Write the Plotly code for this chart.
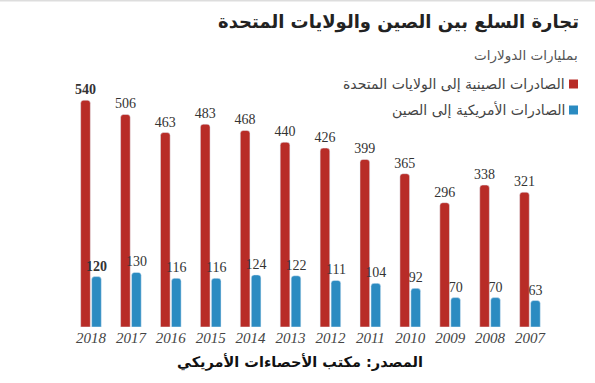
import plotly.graph_objects as go

years = ["2018", "2017", "2016", "2015", "2014", "2013", "2012", "2011", "2010", "2009", "2008", "2007"]
china_exports = [540, 506, 463, 483, 468, 440, 426, 399, 365, 296, 338, 321]
us_exports = [120, 130, 116, 116, 124, 122, 111, 104, 92, 70, 70, 63]

title_text = "تجارة السلع بين الصين والولايات المتحدة"
subtitle_text = "بمليارات الدولارات"
series_names = ["الصادرات الصينية إلى الولايات المتحدة", "الصادرات الأمريكية إلى الصين"]
source_text = "المصدر: مكتب الأحصاءات الأمريكي"

RED = "#b82c27"
BLUE = "#2b8bc1"
AR_FONT = "DejaVu Sans"
W, H = 595, 383
T, B = 75, 56


def labels(vals):
    return [f"<b>{v}</b>" if i == 0 else str(v) for i, v in enumerate(vals)]


fig = go.Figure()
for vals, name, col in [(china_exports, series_names[0], RED), (us_exports, series_names[1], BLUE)]:
    fig.add_trace(go.Bar(
        x=years, y=vals, name=name, marker_color=col,
        text=labels(vals), textposition="outside", cliponaxis=False, constraintext="none",
        textfont=dict(family="Liberation Serif", size=14, color="#333333"),
        hoverinfo="skip",
    ))

fig.update_layout(
    width=W, height=H,
    margin=dict(l=0, r=0, t=T, b=B),
    paper_bgcolor="white", plot_bgcolor="white",
    barmode="group", bargap=0.45, bargroupgap=0.12, barcornerradius=3,
    showlegend=False,
    xaxis=dict(type="category", range=[-2.28, 12.63], showgrid=False, zeroline=False,
               showline=False, ticks="", ticklen=0, fixedrange=True,
               tickfont=dict(family="Liberation Serif", size=15, color="#444444", style="italic")),
    yaxis=dict(range=[0, 600], visible=False, fixedrange=True),
)


def px_x(x):
    return x / W


def px_y(y):
    return (H - B - y) / (H - T - B)


fig.add_shape(type="line", xref="paper", yref="paper", x0=0, x1=1, y0=px_y(0.5), y1=px_y(0.5),
              line=dict(color="#dddddd", width=2))
fig.add_annotation(x=px_x(581), y=px_y(22), xref="paper", yref="paper", text=f"<b>{title_text}</b>",
                   showarrow=False, xanchor="right", yanchor="middle",
                   font=dict(family=AR_FONT, size=18, color="#222222"))
fig.add_annotation(x=px_x(580), y=px_y(55), xref="paper", yref="paper", text=subtitle_text,
                   showarrow=False, xanchor="right", yanchor="middle",
                   font=dict(family=AR_FONT, size=13.5, color="#555555"))
for i, (name, col) in enumerate(zip(series_names, [RED, BLUE])):
    yc = 84 + 26 * i
    fig.add_shape(type="rect", xref="paper", yref="paper",
                  x0=px_x(569), x1=px_x(578), y0=px_y(yc + 4.5), y1=px_y(yc - 4.5),
                  fillcolor=col, line=dict(width=0))
    fig.add_annotation(x=px_x(567), y=px_y(yc), xref="paper", yref="paper", text=name,
                       showarrow=False, xanchor="right", yanchor="middle",
                       font=dict(family=AR_FONT, size=14, color="#444444"))
fig.add_annotation(x=px_x(300), y=px_y(362), xref="paper", yref="paper", text=f"<b>{source_text}</b>",
                   showarrow=False, xanchor="center", yanchor="middle",
                   font=dict(family=AR_FONT, size=14.5, color="#111111"))

fig.write_html("out.html", config={"displayModeBar": False},
               post_script="document.body.style.margin='0';")
